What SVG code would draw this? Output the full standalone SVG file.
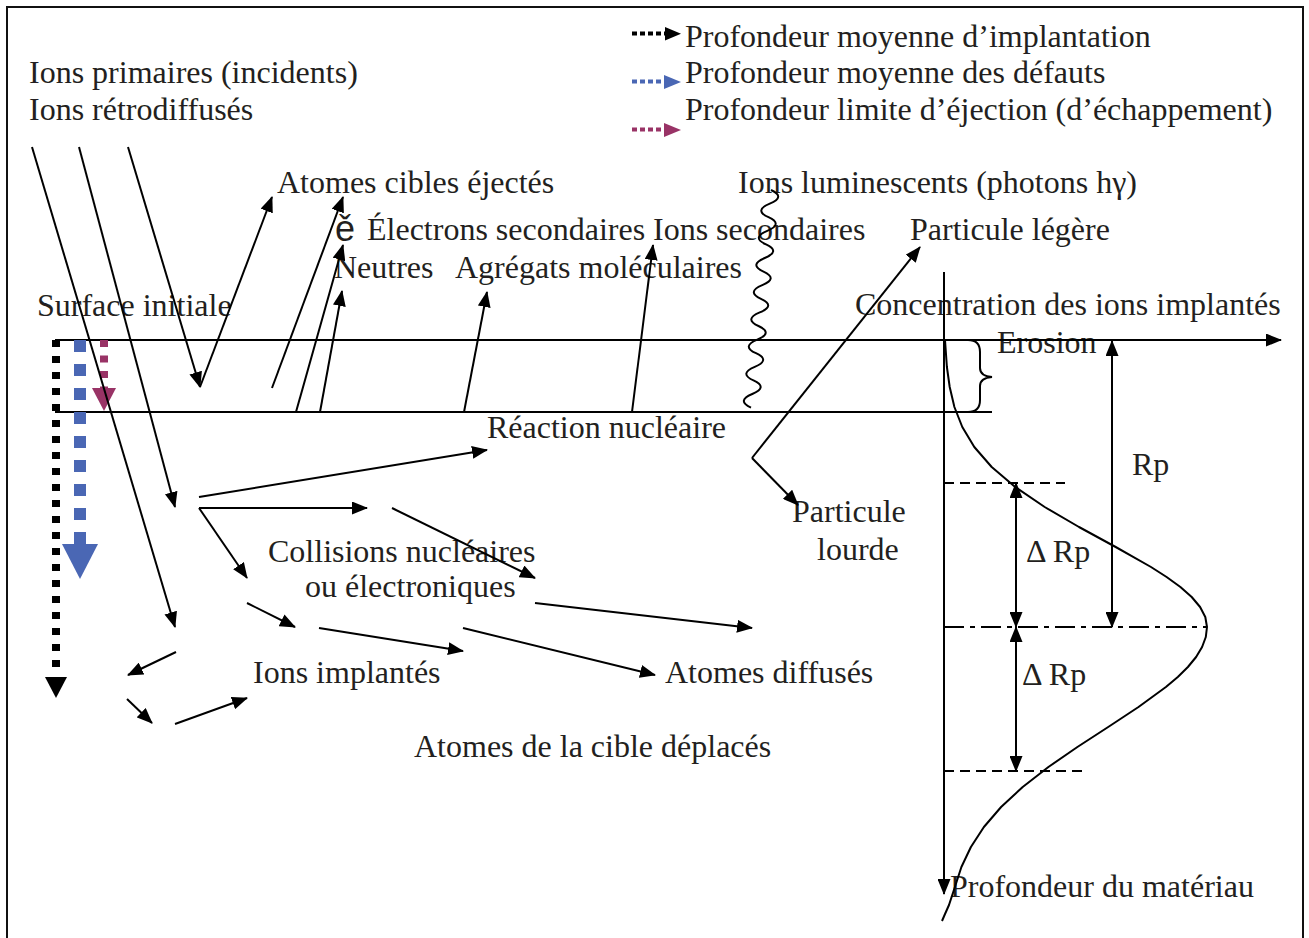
<svg xmlns="http://www.w3.org/2000/svg" width="1309" height="938" viewBox="0 0 1309 938">
  <style>
    .t { font-family: "Liberation Serif", "Times New Roman", serif; font-size: 32px; fill: #231f20; }
    .e { font-family: "Liberation Sans", Arial, sans-serif; font-size: 36px; fill: #231f20; }
    .ln { stroke: #000; stroke-width: 2; fill: none; }
    .ar { stroke: #000; stroke-width: 2; fill: none; marker-end: url(#ah); }
    .dar { stroke: #000; stroke-width: 2; fill: none; marker-end: url(#ah); marker-start: url(#ah); }
  </style>
  <defs>
    <marker id="ah" viewBox="0 0 16 13" refX="15" refY="6.5" markerWidth="16" markerHeight="13" markerUnits="userSpaceOnUse" orient="auto-start-reverse">
      <path d="M0,0 L16,6.5 L0,13 z" fill="#000"/>
    </marker>
  </defs>

  <rect width="1309" height="938" fill="#fff"/>
  <!-- frame (open at the bottom) -->
  <path d="M7,938 V7 H1303 V938" fill="none" stroke="#111" stroke-width="2"/>

  <!-- legend -->
  <g id="legend">
    <line x1="632" y1="33.5" x2="665" y2="33.5" stroke="#000" stroke-width="4" stroke-dasharray="5 3"/>
    <polygon points="665,27 665,40.5 681,33.7" fill="#000"/>
    <line x1="632" y1="81.5" x2="664" y2="81.5" stroke="#4a67b4" stroke-width="4" stroke-dasharray="5 3"/>
    <polygon points="664,75 664,89 681,82" fill="#4a67b4"/>
    <line x1="632" y1="129.5" x2="664" y2="129.5" stroke="#993366" stroke-width="4" stroke-dasharray="5 3"/>
    <polygon points="664,123 664,137 681,130" fill="#993366"/>
    <text class="t" x="685" y="47">Profondeur moyenne d’implantation</text>
    <text class="t" x="685" y="83">Profondeur moyenne des défauts</text>
    <text class="t" x="685" y="120">Profondeur limite d’éjection (d’échappement)</text>
  </g>

  <!-- labels -->
  <g id="labels">
    <text class="t" x="29" y="83">Ions primaires (incidents)</text>
    <text class="t" x="29" y="120">Ions rétrodiffusés</text>
    <text class="t" x="277" y="193">Atomes cibles éjectés</text>
    <text class="e" x="335" y="241">ě</text>
    <text class="t" x="367" y="240">Électrons secondaires</text>
    <text class="t" x="653" y="240">Ions secondaires</text>
    <text class="t" x="334" y="278">Neutres</text>
    <text class="t" x="455" y="278">Agrégats moléculaires</text>
    <text class="t" x="738" y="193">Ions luminescents (photons hγ)</text>
    <text class="t" x="910" y="240">Particule légère</text>
    <text class="t" x="37" y="316">Surface initiale</text>
    <text class="t" x="855" y="315">Concentration des ions implantés</text>
    <text class="t" x="997" y="353">Erosion</text>
    <text class="t" x="487" y="438">Réaction nucléaire</text>
    <text class="t" x="1132" y="475">Rp</text>
    <text class="t" x="792" y="522">Particule</text>
    <text class="t" x="817" y="560">lourde</text>
    <text class="t" x="268" y="562">Collisions nucléaires</text>
    <text class="t" x="305" y="597">ou électroniques</text>
    <text class="t" x="1026" y="562">Δ Rp</text>
    <text class="t" x="1022" y="685">Δ Rp</text>
    <text class="t" x="253" y="683">Ions implantés</text>
    <text class="t" x="665" y="683">Atomes diffusés</text>
    <text class="t" x="414" y="757">Atomes de la cible déplacés</text>
    <text class="t" x="950" y="897">Profondeur du matériau</text>
  </g>

  <!-- target layer: surface lines and erosion brace -->
  <g id="target">
    <line class="ar" x1="55" y1="340" x2="1281" y2="340"/>
    <line class="ln" x1="55" y1="412" x2="992" y2="412"/>
    <path class="ln" d="M968,340 Q980,340 980,352 L980,368 Q980,376 992,377 Q980,378 980,386 L980,400 Q980,412 968,412"/>
  </g>

  <!-- depth markers -->
  <g id="depth-markers">
    <line x1="56" y1="340" x2="56" y2="668" stroke="#000" stroke-width="8" stroke-dasharray="7 9"/>
    <polygon points="45,677 67,677 56,698" fill="#000"/>
    <line x1="80" y1="340" x2="80" y2="545" stroke="#4a67b4" stroke-width="12" stroke-dasharray="12 12"/>
    <polygon points="62,544 98,544 80,579" fill="#4a67b4"/>
    <line x1="104" y1="340" x2="104" y2="388" stroke="#993366" stroke-width="8" stroke-dasharray="7 8.5"/>
    <polygon points="92,388 116,388 104,411" fill="#993366"/>
  </g>

  <!-- concentration profile -->
  <g id="profile">
    <line class="ar" x1="944" y1="272" x2="944" y2="894"/>
    <polyline class="ln" points="945,340 946.9,367 949.7,387 954.4,407 962.3,427 974.3,447 991.7,467 1015.2,487 1044.7,507 1079,527 1115.7,547 1151,567 1166.6,577 1180.4,587 1191.7,597 1200.1,607 1205.3,617 1207,627 1205.8,637 1202.1,647 1196.1,657 1187.9,667 1177.8,677 1165.9,687 1138.5,707 1108.2,727 1077.4,747 1048.4,767 1022.7,787 1001.1,807 983.9,827 970.9,847 961.4,867 954.9,887 949,905 945,914 942,921" stroke-linejoin="round"/>
    <line class="ln" x1="944" y1="483" x2="1065" y2="483" stroke-dasharray="10 6"/>
    <line class="ln" x1="944" y1="771" x2="1086" y2="771" stroke-dasharray="10 6"/>
    <line class="ln" x1="944" y1="627" x2="1207" y2="627" stroke-dasharray="20 6 5 6"/>
    <line class="dar" x1="1112" y1="341" x2="1112" y2="627"/>
    <line class="dar" x1="1016" y1="483" x2="1016" y2="627"/>
    <line class="dar" x1="1016" y1="627" x2="1016" y2="771"/>
  </g>

  <!-- particle trajectories -->
  <g id="connectors">
    <line class="ar" x1="32" y1="147" x2="175" y2="627"/>
    <line class="ar" x1="79" y1="147" x2="175" y2="507"/>
    <line class="ar" x1="128" y1="147" x2="200" y2="387"/>
    <line class="ar" x1="200" y1="387" x2="272" y2="197"/>
    <line class="ar" x1="272" y1="388" x2="343" y2="197"/>
    <line class="ar" x1="296" y1="412" x2="343" y2="245"/>
    <line class="ar" x1="320" y1="412" x2="342" y2="291"/>
    <line class="ar" x1="464" y1="412" x2="487" y2="292"/>
    <line class="ar" x1="632" y1="412" x2="653" y2="245"/>
    <line class="ar" x1="752" y1="458" x2="920" y2="247"/>
    <line class="ar" x1="752" y1="458" x2="798" y2="505"/>
    <line class="ar" x1="199" y1="497" x2="487" y2="450"/>
    <line class="ar" x1="199" y1="508" x2="367" y2="508"/>
    <line class="ar" x1="199" y1="508" x2="247" y2="578"/>
    <line class="ar" x1="392" y1="508" x2="535" y2="578"/>
    <line class="ar" x1="247" y1="603" x2="295" y2="627"/>
    <line class="ar" x1="319" y1="628" x2="463" y2="651"/>
    <line class="ar" x1="463" y1="628" x2="655" y2="675"/>
    <line class="ar" x1="535" y1="603" x2="752" y2="628"/>
    <line class="ar" x1="176" y1="652" x2="128" y2="675"/>
    <line class="ar" x1="127" y1="699" x2="152" y2="723"/>
    <line class="ar" x1="175" y1="724" x2="247" y2="698"/>
    <!-- photon emission -->
    <path class="ln" d="M771,190 q15,6.8 -1.25,13.6 t-1.25,13.6 t-1.25,13.6 t-1.25,13.6 t-1.25,13.6 t-1.25,13.6 t-1.25,13.6 t-1.25,13.6 t-1.25,13.6 t-1.25,13.6 t-1.25,13.6 t-1.25,13.6 t-1.25,13.6 t-1.25,13.6 t-1.25,13.6 t-1.25,13.6"/>
  </g>
</svg>
